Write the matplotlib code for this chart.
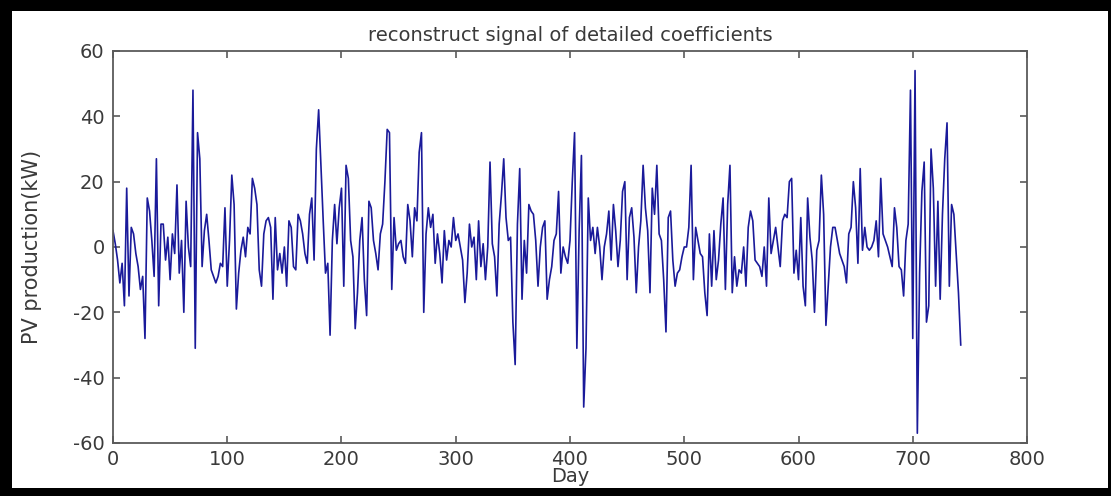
import numpy as np
import matplotlib
matplotlib.use("Agg")
import matplotlib.pyplot as plt
from matplotlib.patches import Rectangle

# detail-coefficient reconstruction, every 2 days
day_step = 2
pv_detail = [
    # days 0-90
    5, 1, -4, -11, -5, -18, 18, -15, 6, 4, -2, -6, -13, -9, -28, 15, 11, 2, -9, 27,
    -18, 7, 7, -4, 3, -10, 4, -2, 19, -8, 2, -20, 14, 0, -6, 48, -31, 35, 27, -6,
    5, 10, 2, -7, -9, -11,
    # days 92-184
    -9, -5, -6, 12, -12, 2, 22, 13, -19, -8, -1, 3, -3, 6, 4, 21, 18, 13, -7, -12,
    4, 8, 9, 6, -16, 9, -7, -2, -8, 0, -12, 8, 6, -6, -7, 10, 8, 4, -2, -5,
    10, 15, -4, 30, 42, 25, 8,
    # days 186-278
    -8, -5, -27, 2, 13, 1, 12, 18, -12, 25, 21, 2, -3, -25, -14, 2, 9, -10, -21, 14,
    12, 2, -2, -7, 4, 7, 20, 36, 35, -13, 9, -1, 1, 2, -3, -5, 13, 8, -3, 12,
    8, 29, 35, -20, 4, 12, 6,
    # days 280-370
    10, -5, 4, -2, -11, 5, -4, 2, 0, 9, 2, 4, 0, -4, -17, -8, 7, 0, 3, -10,
    8, -6, 1, -10, 0, 26, 1, -3, -15, 7, 16, 27, 9, 2, 3, -23, -36, 7, 24, -16,
    2, -8, 13, 11, 10, 2,
    # days 372-464
    -12, 0, 6, 8, -16, -10, -6, 2, 4, 17, -8, 0, -3, -5, 2, 20, 35, -31, 5, 28,
    -49, -31, 15, 2, 6, -2, 6, 0, -10, 0, 4, 11, -4, 13, 5, -6, 2, 17, 20, -10,
    9, 12, 3, -14, 0, 8, 25,
    # days 466-558
    12, 5, -14, 18, 10, 25, 4, 2, -10, -26, 9, 11, -4, -12, -8, -7, -3, 0, 0, 6,
    25, -10, 6, 2, -2, -3, -14, -21, 4, -12, 5, -10, -4, 7, 15, -13, 13, 25, -14, -3,
    -12, -7, -8, 0, -12, 6, 11,
    # days 560-652
    8, -4, -5, -6, -9, 0, -12, 15, -2, 2, 6, 0, -6, 8, 10, 9, 20, 21, -8, -1,
    -10, 9, -12, -18, 15, 3, -4, -20, -1, 2, 22, 10, -24, -12, 0, 6, 6, 2, -2, -4,
    -6, -11, 4, 6, 20, 12, -5,
    # days 654-742
    24, -1, 6, 0, -1, 0, 2, 8, -3, 21, 4, 2, 0, -3, -6, 12, 6, -6, -7, -15,
    2, 7, 48, -28, 54, -57, -8, 17, 26, -23, -18, 30, 18, -12, 14, -16, 10, 27, 38, -12,
    13, 10, -2, -14, -30,
]

x_ticks = [0, 100, 200, 300, 400, 500, 600, 700, 800]
y_ticks = [-60, -40, -20, 0, 20, 40, 60]

days = np.arange(len(pv_detail)) * day_step

plt.rcParams["axes.unicode_minus"] = False

fig = plt.figure(figsize=(11.11, 4.96), dpi=100, facecolor="black")
# white page inside the black screenshot frame
fig.add_artist(Rectangle((0.0108, 0.0161), 0.9865, 0.9617, transform=fig.transFigure,
                         facecolor="white", edgecolor="none", zorder=0))

ax = fig.add_axes([0.1017, 0.1069, 0.8227, 0.7903])
ax.set_facecolor("white")

ax.plot(days, pv_detail, color="#1a1a9a", linewidth=1.2)

ax.set_xlim(0, 800)
ax.set_ylim(-60, 60)
ax.set_xticks(x_ticks)
ax.set_yticks(y_ticks)

txt_col = "#3a3a3a"
for s in ax.spines.values():
    s.set_color("#5a5a5a")
    s.set_linewidth(1.3)
ax.tick_params(direction="in", length=5, width=1.2, color="#5a5a5a",
               top=True, right=True, labelsize=14, labelcolor=txt_col)
ax.tick_params(axis="y", pad=6)
ax.tick_params(axis="x", pad=5)

ax.set_title("reconstruct signal of detailed coefficients", fontsize=14,
             color=txt_col, pad=7)
ax.set_xlabel("Day", fontsize=14, color=txt_col)
ax.xaxis.set_label_coords(0.5, -0.062)
ax.set_ylabel("PV production(kW)", fontsize=15, color=txt_col)
ax.yaxis.set_label_coords(-0.078, 0.5)

fig.savefig("out.png", dpi=100, facecolor=fig.get_facecolor())
